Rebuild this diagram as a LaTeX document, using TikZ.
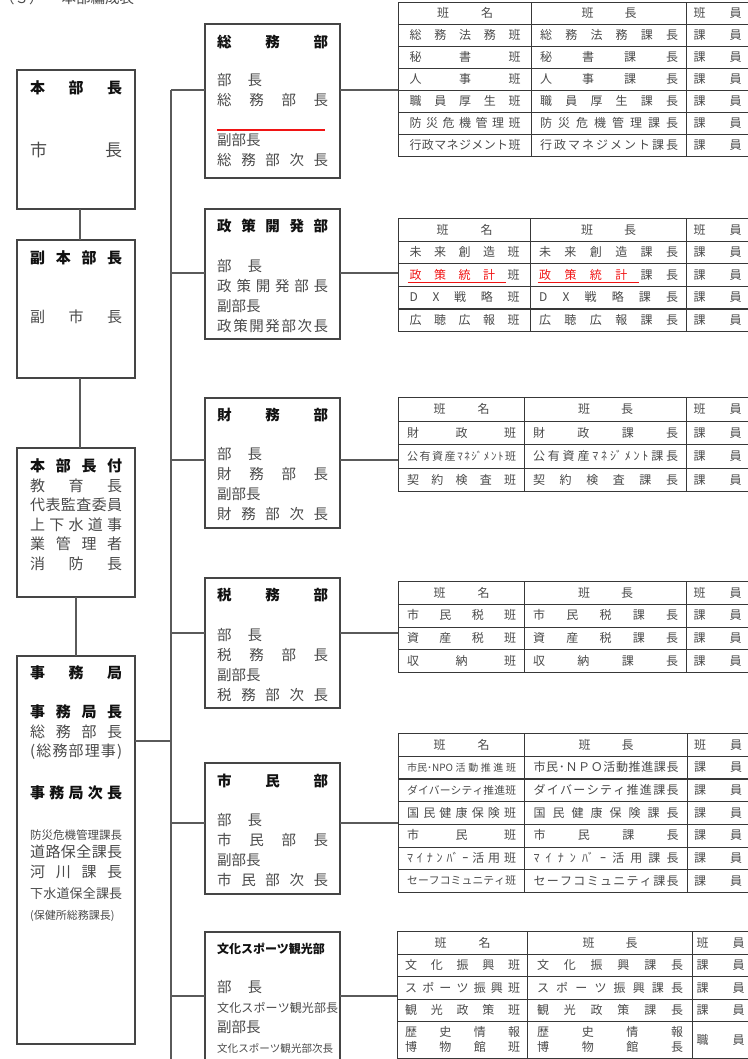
\documentclass[tikz,border=0pt]{standalone}
\usepackage{fontspec}
\setmainfont{Noto Sans CJK JP}
\usetikzlibrary{matrix,calc,positioning}
\definecolor{cink}{HTML}{111111}
\definecolor{cbody}{HTML}{4A4A4A}
\definecolor{cline}{HTML}{454545}
\definecolor{cgrid}{HTML}{383838}
\definecolor{cwire}{HTML}{5A5A5A}
\definecolor{cred}{HTML}{F01414}

% spread the items of #2 evenly over width #1
\ExplSyntaxOn
\NewDocumentCommand \jw { m m }
  {
    \makebox[#1][s]
      {
        \rule[-.15em]{0pt}{1em}
        \bool_set_true:N \l_tmpa_bool
        \tl_map_inline:nn {#2}
          {
            \bool_if:NTF \l_tmpa_bool
              { \bool_set_false:N \l_tmpa_bool }
              { \hfil }
            ##1
          }
      }
  }
\ExplSyntaxOff
\newcommand\hd{\color{cink}\bfseries}
\newcommand\rd[1]{\textcolor{cred}{#1}}
\newlength\wa
\newlength\wb
\newcommand\ca[1]{\jw{\wa}{#1}}
\newcommand\cb[1]{\jw{\wb}{#1}}
\newcommand\ka{\jw{48pt}{課員}}

\begin{document}
\begin{tikzpicture}[x=1pt, y=-1pt,
    box/.style={draw=cline, line width=1.2pt, inner sep=0pt, outer sep=0pt, anchor=north west},
    con/.style={draw=cwire, line width=1.1pt},
    lt/.style={anchor=base west, inner sep=0pt, text width=92pt, align=left, text=cbody,
      font=\fontsize{15}{19.5}\selectfont},
    dt/.style={lt, text width=111pt, font=\fontsize{14.5}{20}\selectfont},
    tbl/.style={matrix of nodes, anchor=north west, inner sep=0pt, outer sep=0pt,
      column sep=-1.2pt, row sep=-1.2pt,
      nodes={draw=cgrid, line width=1.2pt, inner sep=0pt, outer sep=0pt, anchor=center,
        text=cbody, font=\fontsize{12}{15}\selectfont}},
    cols/.style n args={4}{column 1/.style={nodes={minimum width=#1}},
      column 2/.style={nodes={minimum width=#2}},
      column 3/.style={nodes={minimum width=#3}}, nodes={minimum height=#4}},
    ul/.style={draw=cred, line width=1.1pt}]
  \useasboundingbox (0,0) rectangle (747,1059);

  \node[anchor=base west, inner sep=0pt, text=cbody, font=\fontsize{14.5}{16}\selectfont]
    (title) at (0,3.5) {（３）\hspace{18pt}本部編成表};

  % left column
  \node[box, minimum width=118pt, minimum height=139pt] (honbu) at (17,70) {};
  \node[box, minimum width=118pt, minimum height=138pt] (fuku) at (17,240) {};
  \node[box, minimum width=118pt, minimum height=149pt] (fuzoku) at (17,448) {};
  \node[box, minimum width=118pt, minimum height=388pt] (jimu) at (17,656) {};

  \node[lt] (honbuT) at ($(honbu.north west)+(13,23.7)$)
    {{\hd\jw{92pt}{本部長}}\\[43.3pt]
     {\fontsize{17}{19.5}\selectfont\jw{92pt}{市長}}};
  \node[lt] (fukuT) at ($(fuku.north west)+(13,23.7)$)
    {{\hd\jw{92pt}{副本部長}}\\[39.5pt]
     \jw{92pt}{副市長}};
  \node[lt] (fuzokuT) at ($(fuzoku.north west)+(13,23.7)$)
    {{\hd\jw{92pt}{本部長付}}\\
     \jw{92pt}{教育長}\\
     \jw{92pt}{代表監査委員}\\
     \jw{92pt}{上下水道事}\\
     \jw{92pt}{業管理者}\\
     \jw{92pt}{消防長}};
  \node[lt] (jimuT) at ($(jimu.north west)+(13,22.7)$)
    {{\hd\jw{92pt}{事務局}}\\[19.5pt]
     {\hd\jw{92pt}{事務局長}}\\
     \jw{92pt}{総務部長}\\
     \jw{92pt}{(総務部理事)}\\[22.5pt]
     {\hd\jw{92pt}{事務局次長}}\\[21.2pt]
     {\fontsize{11.5}{19.5}\selectfont\jw{92pt}{防災危機管理課長}}\\[-1.2pt]
     \jw{92pt}{道路保全課長}\\
     \jw{92pt}{河川課長}\\[1.8pt]
     {\fontsize{13}{19.5}\selectfont\jw{92pt}{下水道保全課長}}\\[1.5pt]
     {\fontsize{11}{19.5}\selectfont(保健所総務課長)}};

  % departments
  \node[box, minimum width=135pt, minimum height=154pt] (soumu) at (205,24) {};
  \node[box, minimum width=135pt, minimum height=130pt] (seisaku) at (205,209) {};
  \node[box, minimum width=135pt, minimum height=130pt] (zaimu) at (205,398) {};
  \node[box, minimum width=135pt, minimum height=130pt] (zeimu) at (205,578) {};
  \node[box, minimum width=135pt, minimum height=131pt] (shimin) at (205,763) {};
  \node[box, minimum width=135pt, minimum height=140pt] (bunka) at (205,932) {};

  \node[dt] (soumuT) at ($(soumu.north west)+(12,23.7)$)
    {{\hd\jw{111pt}{総務部}}\\[18pt]
     \jw{45pt}{部長}\\
     \jw{111pt}{総務部長}\\[20pt]
     副部長\\
     \jw{111pt}{総務部次長}};
  \draw[ul] ($(soumu.north west)+(12,106)$) -- ($(soumu.north west)+(120,106)$);
  \node[dt] (seisakuT) at ($(seisaku.north west)+(12,22.7)$)
    {{\hd\jw{111pt}{政策開発部}}\\[19.5pt]
     \jw{45pt}{部長}\\
     \jw{111pt}{政策開発部長}\\
     副部長\\
     \jw{111pt}{政策開発部次長}};
  \node[dt] (zaimuT) at ($(zaimu.north west)+(12,22.7)$)
    {{\hd\jw{111pt}{財務部}}\\[18.8pt]
     \jw{45pt}{部長}\\
     \jw{111pt}{財務部長}\\
     副部長\\
     \jw{111pt}{財務部次長}};
  \node[dt] (zeimuT) at ($(zeimu.north west)+(12,22.7)$)
    {{\hd\jw{111pt}{税務部}}\\[19.8pt]
     \jw{45pt}{部長}\\
     \jw{111pt}{税務部長}\\
     副部長\\
     \jw{111pt}{税務部次長}};
  \node[dt] (shiminT) at ($(shimin.north west)+(12,23.7)$)
    {{\hd\jw{111pt}{市民部}}\\[18.8pt]
     \jw{45pt}{部長}\\
     \jw{111pt}{市民部長}\\
     副部長\\
     \jw{111pt}{市民部次長}};
  \node[dt] (bunkaT) at ($(bunka.north west)+(12,21.6)$)
    {{\hd\fontsize{12}{20}\selectfont 文化スポーツ観光部}\\[18.9pt]
     \jw{45pt}{部長}\\
     {\fontsize{12}{20}\selectfont\jw{121pt}{文化スポーツ観光部長}}\\
     副部長\\
     {\fontsize{10.5}{20}\selectfont\jw{116pt}{文化スポーツ観光部次長}}};

  % tables
  \setlength\wa{111pt}\setlength\wb{138pt}
  \matrix[tbl, cols={133pt}{155pt}{62pt}{22pt}] (t1) at (398,2) {
    \jw{56pt}{班名} & \jw{55pt}{班長} & \jw{48pt}{班員} \\
    \ca{総務法務班} & \cb{総務法務課長} & \ka \\
    \ca{秘書班} & \cb{秘書課長} & \ka \\
    \ca{人事班} & \cb{人事課長} & \ka \\
    \ca{職員厚生班} & \cb{職員厚生課長} & \ka \\
    \ca{防災危機管理班} & \cb{防災危機管理課長} & \ka \\
    \ca{行政マネジメント班} & \cb{行政マネジメント課長} & \ka \\
  };

  \setlength\wa{110pt}\setlength\wb{139pt}
  \matrix[tbl, cols={132pt}{156pt}{62pt}{22.6pt}] (t2) at (398,218) {
    \jw{56pt}{班名} & \jw{55pt}{班長} & \jw{48pt}{班員} \\
    \ca{未来創造班} & \cb{未来創造課長} & \ka \\
    \ca{{\rd{政}}{\rd{策}}{\rd{統}}{\rd{計}}班} & \cb{{\rd{政}}{\rd{策}}{\rd{統}}{\rd{計}}課長} & \ka \\
    \ca{DX戦略班} & \cb{DX戦略課長} & \ka \\
    \ca{広聴広報班} & \cb{広聴広報課長} & \ka \\
  };
  \draw[ul] ([shift={(9,-4)}]t2-3-1.south west) -- ++(98,0);
  \draw[ul] ([shift={(7,-4)}]t2-3-2.south west) -- ++(101,0);

  \setlength\wa{109pt}\setlength\wb{145pt}
  \matrix[tbl, cols={126pt}{162pt}{62pt}{23.5pt}] (t3) at (398,397) {
    \jw{56pt}{班名} & \jw{55pt}{班長} & \jw{48pt}{班員} \\
    \ca{財政班} & \cb{財政課長} & \ka \\
    |[font=\fontsize{11}{13}\selectfont]| \ca{公有資産ﾏﾈ{ｼﾞ}ﾒﾝﾄ班} & \cb{公有資産ﾏﾈ{ｼﾞ}ﾒﾝﾄ課長} & \ka \\
    \ca{契約検査班} & \cb{契約検査課長} & \ka \\
  };

  \matrix[tbl, cols={126pt}{162pt}{62pt}{22.75pt}] (t4) at (398,581) {
    \jw{56pt}{班名} & \jw{55pt}{班長} & \jw{48pt}{班員} \\
    \ca{市民税班} & \cb{市民税課長} & \ka \\
    \ca{資産税班} & \cb{資産税課長} & \ka \\
    \ca{収納班} & \cb{収納課長} & \ka \\
  };

  \matrix[tbl, cols={126pt}{163pt}{61pt}{22.7pt}] (t5) at (398,733) {
    \jw{56pt}{班名} & \jw{55pt}{班長} & \jw{48pt}{班員} \\
    |[font=\fontsize{10}{12}\selectfont]| \ca{{市民･NPO}活動推進班} & \cb{市民･ＮＰＯ活動推進課長} & \ka \\
    |[font=\fontsize{10.8}{12}\selectfont]| \ca{ダイバーシティ推進班} & \cb{ダイバーシティ推進課長} & \ka \\
    \ca{国民健康保険班} & \cb{国民健康保険課長} & \ka \\
    \ca{市民班} & \cb{市民課長} & \ka \\
    \ca{ﾏｲﾅﾝ{ﾊﾞ}ｰ活用班} & \cb{ﾏｲﾅﾝ{ﾊﾞ}ｰ活用課長} & \ka \\
    |[font=\fontsize{10.8}{12}\selectfont]| \ca{セーフコミュニティ班} & \cb{セーフコミュニティ課長} & \ka \\
  };

  \setlength\wa{115pt}\setlength\wb{146pt}
  \matrix[tbl, cols={130pt}{165pt}{56pt}{22.5pt}, row 5/.style={nodes={minimum height=37pt}}] (t6) at (397,931) {
    \jw{56pt}{班名} & \jw{55pt}{班長} & \jw{48pt}{班員} \\
    \ca{文化振興班} & \cb{文化振興課長} & \ka \\
    \ca{スポーツ振興班} & \cb{スポーツ振興課長} & \ka \\
    \ca{観光政策班} & \cb{観光政策課長} & \ka \\
    \parbox{\wa}{\ca{歴史情報}\par\ca{博物館班}} & \parbox{\wb}{\cb{歴史情報}\par\cb{博物館長}} & \jw{48pt}{職員} \\
  };

  % connectors
  \coordinate (j1) at (171,90);
  \coordinate (j2) at (171,273);
  \coordinate (j3) at (171,460);
  \coordinate (j4) at (171,633);
  \coordinate (j5) at (171,823);
  \coordinate (j6) at (171,996);
  \coordinate (jx) at (171,741);
  \coordinate (tend) at (171,1065);
  \draw[con] (j1) -- (tend);
  \foreach \d/\t [count=\i] in {soumu/t1, seisaku/t2, zaimu/t3, zeimu/t4, shimin/t5, bunka/t6} {
    \draw[con] (j\i) -- (j\i -| \d.west);
    \draw[con] (j\i -| \d.east) -- (j\i -| \t.west);
  }
  \draw[con] (jimu.east |- jx) -- (jx);
  \draw[con] ([xshift=4pt]honbu.south) -- ([xshift=4pt]fuku.north);
  \draw[con] ([xshift=4pt]fuku.south) -- ([xshift=4pt]fuzoku.north);
  \draw[con] (fuzoku.south) -- (jimu.north);
\end{tikzpicture}
\end{document}
